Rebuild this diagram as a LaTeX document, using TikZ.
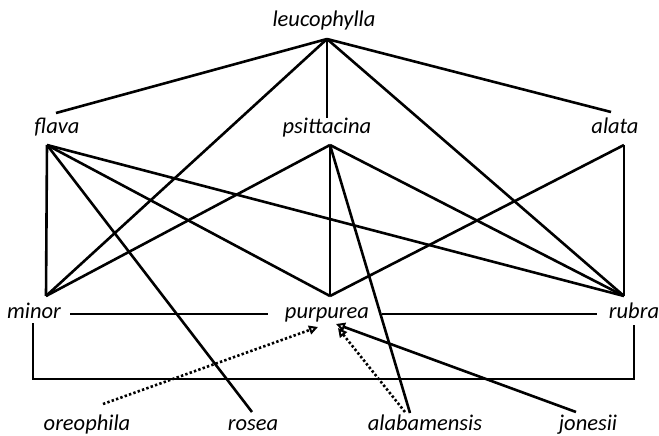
\documentclass[tikz,border=0pt]{standalone}
\usepackage{fontspec}
\setmainfont{Carlito}
\usetikzlibrary{arrows.meta}

\begin{document}
\begin{tikzpicture}[x=1pt,y=-1pt,line width=2.6pt,
    taxon/.style={font=\fontsize{22.5}{26}\selectfont\itshape,inner sep=0pt,anchor=base},
    hybrid/.style={-{Triangle[length=9pt,width=9pt,open,line width=2pt]}},
    dots/.style={dash pattern=on 2.4pt off 2.2pt}]

      \useasboundingbox (0,0) rectangle (659,436);

      \begin{scope}[every node/.style={taxon}]
        \node (leu) at (324,27)  {leucophylla};
        \node (fla) at (57,133)  {flava};
        \node (psi) at (327,133) {psittacina};
        \node (ala) at (615,133) {alata};
        \node (min) at (34,318)  {minor};
        \node (pur) at (327,318) {purpurea};
        \node (rub) at (634,318) {rubra};
        \node (ore) at (87,430)  {oreophila};
        \node (ros) at (253,430) {rosea};
        \node (alb) at (425,430) {alabamensis};
        \node (jon) at (588,430) {jonesii};
      \end{scope}

      % corners of the net
      \coordinate (top) at (327,39);
      \coordinate (f) at (47,145);
      \coordinate (p) at (330,145);
      \coordinate (a) at (624,145);
      \coordinate (m) at (46,296);
      \coordinate (u) at (330,296);
      \coordinate (r) at (624,296);

      % loose ends
      \coordinate (fla-end) at (56,113);
      \coordinate (psi-end) at (327,118);
      \coordinate (ala-end) at (611,112);
      \coordinate (min-r) at (70,314);
      \coordinate (pur-l) at (268,314);
      \coordinate (pur-r) at (382,314);
      \coordinate (rub-l) at (597,314);
      \coordinate (ros-end) at (252,412);
      \coordinate (alb-end) at (410,413);
      \coordinate (alb-start) at (405,412);
      \coordinate (ore-start) at (103,404);
      \coordinate (jon-start) at (576,412);
      \coordinate (tip1) at (318,327);
      \coordinate (tip2) at (338,328);
      \coordinate (tip3) at (336,324);

      \begin{scope}[every edge/.style={draw}]
        \path (top) edge (fla-end) edge (psi-end) edge (ala-end) edge (m) edge (r);
        \path (f) edge (m) edge (u) edge (r) edge (ros-end);
        \path (p) edge (m) edge (u) edge (r) edge (alb-end);
        \path (a) edge (r) edge (u);
        \path (min-r) edge (pur-l);
        \path (pur-r) edge (rub-l);
      \end{scope}

      \draw (33,323) -- (33,379) -- (634,379) -- (634,325);

      \begin{scope}[every edge/.style={draw,hybrid}]
        \path (jon-start) edge (tip3);
        \path[dots] (ore-start) edge[dots] (tip1);
        \path[dots] (alb-start) edge[dots] (tip2);
      \end{scope}

    \end{tikzpicture}
\end{document}
